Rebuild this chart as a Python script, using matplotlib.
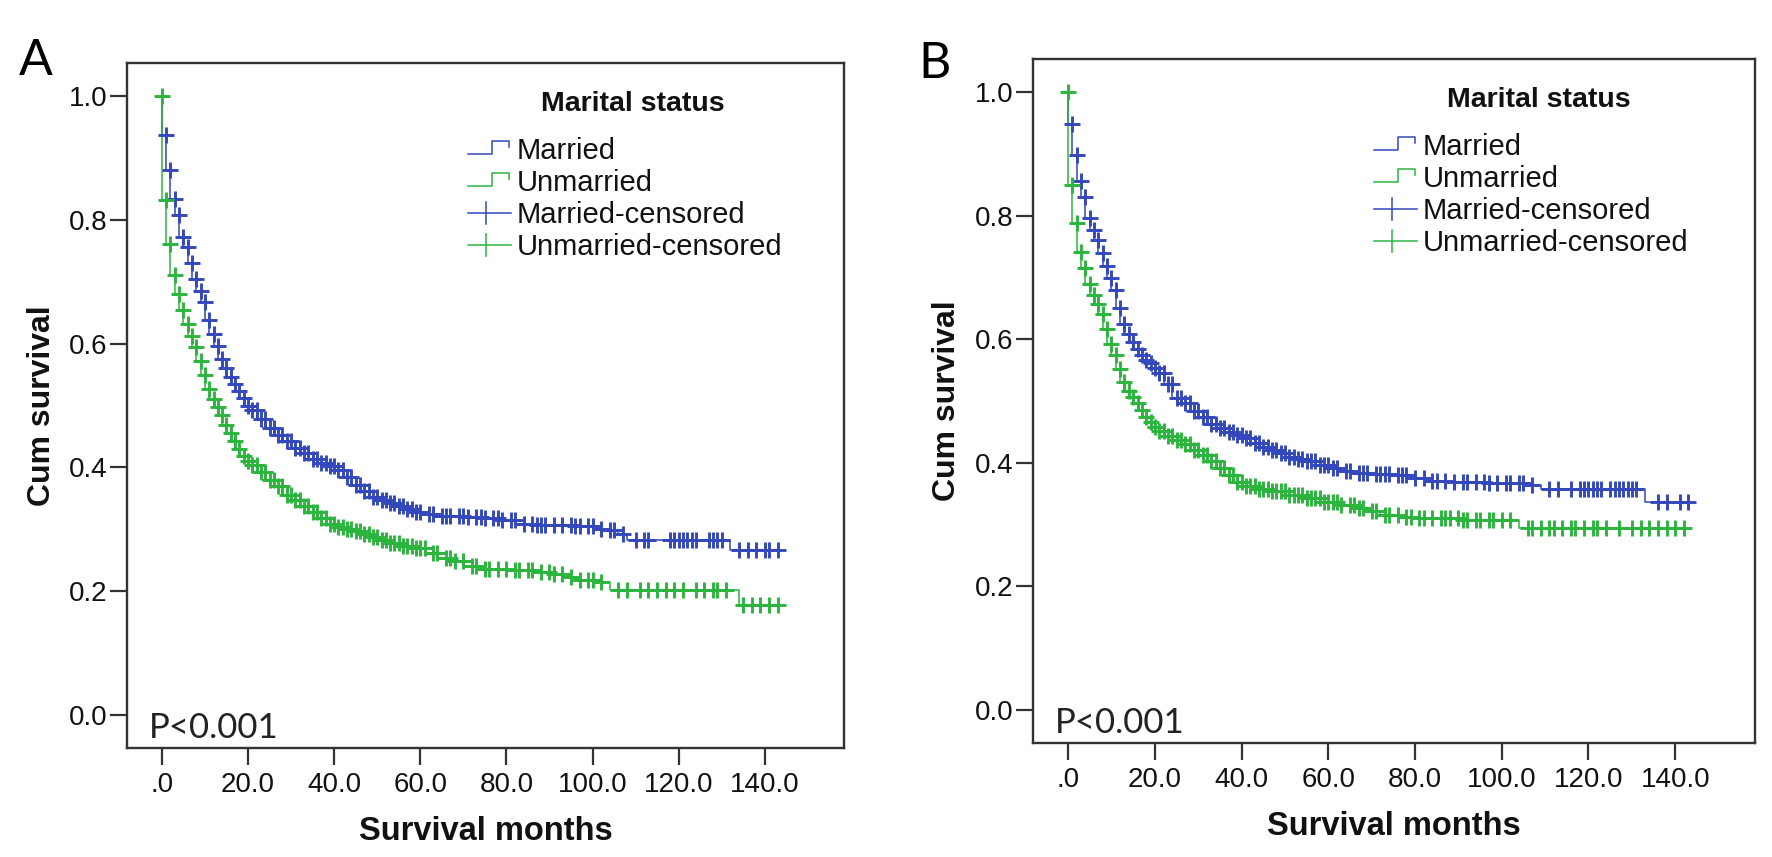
import numpy as np
import matplotlib
matplotlib.use('Agg')
import matplotlib.pyplot as plt
from matplotlib.lines import Line2D

# ---- data ----
end_month = 143

# panel A
a_married_t = [0, 1, 2, 3, 4, 5, 6, 7, 8, 9, 10, 11, 12, 13, 14, 15, 16, 17, 18, 19, 20, 22, 24, 26, 28,
               30, 32, 34, 36, 38, 40, 42, 44, 46, 48, 50, 52, 54, 56, 58, 60, 63, 66, 70, 74, 78, 82,
               86, 90, 95, 100, 103, 106, 108, 132]
a_married_s = [0.938, 0.881, 0.834, 0.808, 0.773, 0.757, 0.730, 0.705, 0.686, 0.668, 0.638, 0.616,
               0.597, 0.575, 0.560, 0.546, 0.535, 0.524, 0.512, 0.500, 0.493, 0.478, 0.463, 0.452,
               0.443, 0.432, 0.423, 0.414, 0.407, 0.402, 0.396, 0.384, 0.372, 0.362, 0.352, 0.347,
               0.342, 0.337, 0.332, 0.327, 0.324, 0.322, 0.321, 0.320, 0.318, 0.315, 0.309, 0.307,
               0.306, 0.305, 0.301, 0.298, 0.292, 0.282, 0.266]
a_unmarried_t = [0, 1, 2, 3, 4, 5, 6, 7, 8, 9, 10, 11, 12, 13, 14, 15, 16, 17, 18, 19, 20, 22, 24, 26,
                 28, 30, 32, 34, 36, 38, 40, 42, 44, 46, 48, 50, 52, 55, 58, 61, 64, 67, 70, 74, 80,
                 86, 90, 93, 96, 100, 104, 134]
a_unmarried_s = [0.832, 0.762, 0.711, 0.680, 0.655, 0.632, 0.612, 0.595, 0.572, 0.549, 0.526, 0.510,
                 0.497, 0.484, 0.468, 0.455, 0.442, 0.430, 0.419, 0.411, 0.404, 0.393, 0.380, 0.370,
                 0.356, 0.347, 0.337, 0.327, 0.318, 0.308, 0.304, 0.300, 0.297, 0.292, 0.288, 0.283,
                 0.277, 0.273, 0.269, 0.262, 0.254, 0.248, 0.241, 0.236, 0.234, 0.231, 0.227, 0.222,
                 0.217, 0.215, 0.201, 0.177]
a_married_cens = [1, 2, 3, 4, 5, 6, 7, 8, 9, 10, 11, 12, 13, 14, 15, 16, 17, 18, 19, 20, 21, 22, 23,
                  24, 25, 26, 27, 28, 29, 30, 31, 32, 33, 34, 35, 36, 37, 38, 39, 40, 41, 42, 43, 44,
                  45, 46, 47, 48, 49, 50, 51, 52, 53, 54, 55, 56, 57, 58, 59, 60, 62, 63, 65, 66, 67,
                  69, 70, 71, 73, 74, 75, 77, 78, 79, 81, 82, 84, 86, 87, 88, 89, 91, 93, 95, 96, 97,
                  99, 100, 102, 104, 105, 107, 110, 112, 113, 118, 119, 120, 121, 122, 123, 124, 127,
                  128, 129, 130, 134, 136, 138, 140, 141, 143]
a_unmarried_cens = [0, 1, 2, 3, 4, 5, 6, 7, 8, 9, 10, 11, 12, 13, 14, 15, 16, 17, 18, 19, 20, 21, 22,
                    23, 24, 25, 26, 27, 28, 29, 30, 31, 32, 33, 34, 35, 36, 37, 38, 39, 40, 41, 42,
                    43, 44, 45, 46, 47, 48, 49, 50, 51, 52, 53, 54, 55, 56, 57, 58, 59, 60, 61, 63,
                    64, 66, 67, 68, 70, 72, 73, 75, 76, 78, 80, 82, 83, 85, 86, 88, 90, 91, 93, 95,
                    97, 99, 100, 102, 106, 108, 111, 113, 115, 117, 119, 121, 124, 126, 128, 129, 131,
                    135, 137, 139, 141, 143]

# panel B
b_married_t = [0, 1, 2, 3, 4, 5, 6, 7, 8, 9, 10, 11, 12, 13, 14, 15, 16, 17, 18, 19, 20, 22, 24, 26,
               28, 30, 32, 34, 36, 38, 40, 42, 44, 46, 48, 50, 52, 54, 57, 60, 63, 66, 70, 75, 79,
               83, 87, 96, 106, 109, 133]
b_married_s = [0.948, 0.899, 0.856, 0.831, 0.796, 0.777, 0.760, 0.740, 0.718, 0.699, 0.680, 0.650,
               0.625, 0.608, 0.595, 0.585, 0.575, 0.567, 0.561, 0.554, 0.546, 0.528, 0.505, 0.496,
               0.484, 0.474, 0.463, 0.456, 0.450, 0.445, 0.440, 0.432, 0.425, 0.420, 0.415, 0.410,
               0.406, 0.402, 0.396, 0.391, 0.386, 0.384, 0.382, 0.380, 0.376, 0.371, 0.369, 0.367,
               0.364, 0.357, 0.336]
b_unmarried_t = [0, 1, 2, 3, 4, 5, 6, 7, 8, 9, 10, 11, 12, 13, 14, 15, 16, 17, 18, 19, 20, 22, 24, 26,
                 28, 30, 32, 34, 36, 38, 40, 43, 46, 50, 54, 58, 62, 66, 69, 72, 76, 80, 90, 104]
b_unmarried_s = [0.850, 0.788, 0.742, 0.715, 0.690, 0.672, 0.657, 0.641, 0.617, 0.592, 0.575, 0.552,
                 0.530, 0.516, 0.507, 0.496, 0.485, 0.474, 0.466, 0.458, 0.452, 0.444, 0.437, 0.430,
                 0.421, 0.412, 0.402, 0.392, 0.380, 0.369, 0.362, 0.357, 0.354, 0.348, 0.343, 0.337,
                 0.331, 0.327, 0.322, 0.315, 0.312, 0.310, 0.307, 0.295]
b_married_cens = [1, 2, 3, 4, 5, 6, 7, 8, 9, 10, 11, 12, 13, 14, 15, 16, 17, 18, 19, 20, 21, 22, 23,
                  24, 25, 26, 27, 28, 29, 30, 31, 32, 33, 34, 35, 36, 37, 38, 39, 40, 41, 42, 43, 44,
                  45, 46, 47, 48, 49, 50, 51, 52, 53, 54, 55, 56, 57, 58, 59, 60, 61, 62, 64, 65, 67,
                  68, 69, 71, 72, 73, 74, 76, 77, 78, 80, 82, 84, 85, 87, 89, 91, 92, 94, 96, 97, 99,
                  101, 102, 104, 105, 107, 111, 113, 116, 118, 119, 120, 121, 122, 123, 125, 126, 127,
                  128, 129, 130, 131, 136, 138, 141, 143]
b_unmarried_cens = [0, 1, 2, 3, 4, 5, 6, 7, 8, 9, 10, 11, 12, 13, 14, 15, 16, 17, 18, 19, 20, 21, 22,
                    23, 24, 25, 26, 27, 28, 29, 30, 31, 32, 33, 34, 35, 36, 37, 38, 39, 40, 41, 42,
                    43, 44, 45, 46, 47, 48, 49, 50, 51, 52, 53, 54, 55, 56, 57, 58, 59, 60, 61, 62,
                    63, 65, 66, 67, 68, 70, 71, 73, 74, 76, 78, 79, 81, 82, 84, 86, 87, 88, 90, 91,
                    92, 94, 95, 97, 98, 100, 102, 106, 107, 109, 111, 112, 114, 116, 117, 119, 121,
                    122, 124, 127, 130, 132, 134, 136, 138, 140, 142]

x_ticks = [0, 20, 40, 60, 80, 100, 120, 140]
x_tick_labels = ['.0', '20.0', '40.0', '60.0', '80.0', '100.0', '120.0', '140.0']
y_ticks = [0.0, 0.2, 0.4, 0.6, 0.8, 1.0]
y_tick_labels = ['0.0', '0.2', '0.4', '0.6', '0.8', '1.0']
legend_labels = ['Married', 'Unmarried', 'Married-censored', 'Unmarried-censored']

BLUE = '#3348bd'
GREEN = '#2bb53d'
DARK = '#333333'
INK = '#111111'
ARIAL = ['Liberation Sans', 'DejaVu Sans']
LABEL_FONT = ['Lato', 'DejaVu Sans']


def km_curve(ax, t, s, cens, color):
    xs = np.concatenate([[0.0], t, [end_month]])
    ys = np.concatenate([[1.0], s, [s[-1]]])
    ax.plot(xs, ys, drawstyle='steps-post', color=color, lw=1.1, zorder=2)
    # censor mark sits on the curve just before any drop at that month
    idx = np.searchsorted(t, cens, side='left')
    y_pre = np.concatenate([[1.0], s])[idx]
    ax.plot(cens, y_pre, linestyle='none', marker='+', ms=11, mew=2.1,
            color=color, zorder=3)


def draw_legend(ax):
    w, h = ax.bbox.width, ax.bbox.height
    fx = lambda px: px / w
    fy = lambda px: 1 - px / h
    tr = ax.transAxes
    ax.text(fx(506), fy(48), 'Marital status', transform=tr, ha='center', va='baseline',
            fontsize=20.5, fontweight='bold', family=ARIAL, color=INK)
    x0, x1, xt = 341, 384, 390
    for i, (lab, col) in enumerate(zip(legend_labels, [BLUE, GREEN, BLUE, GREEN])):
        yb = 96 + 32 * i
        if i < 2:
            xs = [x0, x0 + 24, x0 + 24, x1 - 2, x1 - 2]
            ys = [yb - 5, yb - 5, yb - 18, yb - 18, yb - 12]
            ax.add_line(Line2D([fx(v) for v in xs], [fy(v) for v in ys], transform=tr,
                               color=col, lw=1.1, clip_on=False))
        else:
            ax.add_line(Line2D([fx(x0), fx(x1)], [fy(yb - 10), fy(yb - 10)], transform=tr,
                               color=col, lw=1.1, clip_on=False))
            ax.add_line(Line2D([fx(x0 + 18), fx(x0 + 18)], [fy(yb - 21), fy(yb + 1)],
                               transform=tr, color=col, lw=1.1, clip_on=False))
        ax.text(fx(xt), fy(yb), lab, transform=tr, ha='left', va='baseline',
                fontsize=21, family=ARIAL, color=INK)


def style_axes(ax):
    ax.set_xlim(-8.1, 158.4)
    ax.set_ylim(-0.054, 1.054)
    ax.set_xticks(x_ticks)
    ax.set_xticklabels(x_tick_labels, fontsize=20, family=ARIAL, color=INK)
    ax.set_yticks(y_ticks)
    ax.set_yticklabels(y_tick_labels, fontsize=20, family=ARIAL, color=INK)
    ax.tick_params(axis='x', length=12, width=1.6, color=DARK, pad=5)
    ax.tick_params(axis='y', length=12, width=1.6, color=DARK, pad=2)
    for sp in ax.spines.values():
        sp.set_linewidth(1.7)
        sp.set_color(DARK)
    ax.set_xlabel('Survival months', fontsize=23.5, fontweight='bold', family=ARIAL, color=INK)
    ax.set_ylabel('Cum survival', fontsize=23, fontweight='bold', family=ARIAL, color=INK)
    ax.xaxis.set_label_coords(0.5, -0.10)
    ax.yaxis.set_label_coords(-0.098, 0.5)
    ax.text(0.03, 0.0153, 'P<0.001', transform=ax.transAxes, ha='left', va='baseline',
            fontsize=25, family=LABEL_FONT, color='#222222')


fig = plt.figure(figsize=(17.72, 8.57), dpi=100)
axA = fig.add_axes([127 / 1772, 1 - 748 / 857, 717 / 1772, 685 / 857])
axB = fig.add_axes([1033 / 1772, 1 - 743 / 857, 722 / 1772, 684 / 857])

km_curve(axA, a_married_t, a_married_s, a_married_cens, BLUE)
km_curve(axA, a_unmarried_t, a_unmarried_s, a_unmarried_cens, GREEN)
km_curve(axB, b_married_t, b_married_s, b_married_cens, BLUE)
km_curve(axB, b_unmarried_t, b_unmarried_s, b_unmarried_cens, GREEN)

for ax in (axA, axB):
    style_axes(ax)
    draw_legend(ax)

fig.text(19 / 1772, 1 - 75 / 857, 'A', fontsize=36, family=LABEL_FONT, va='baseline')
fig.text(918 / 1772, 1 - 78 / 857, 'B', fontsize=36, family=LABEL_FONT, va='baseline')

fig.savefig('out.png', dpi=100)
